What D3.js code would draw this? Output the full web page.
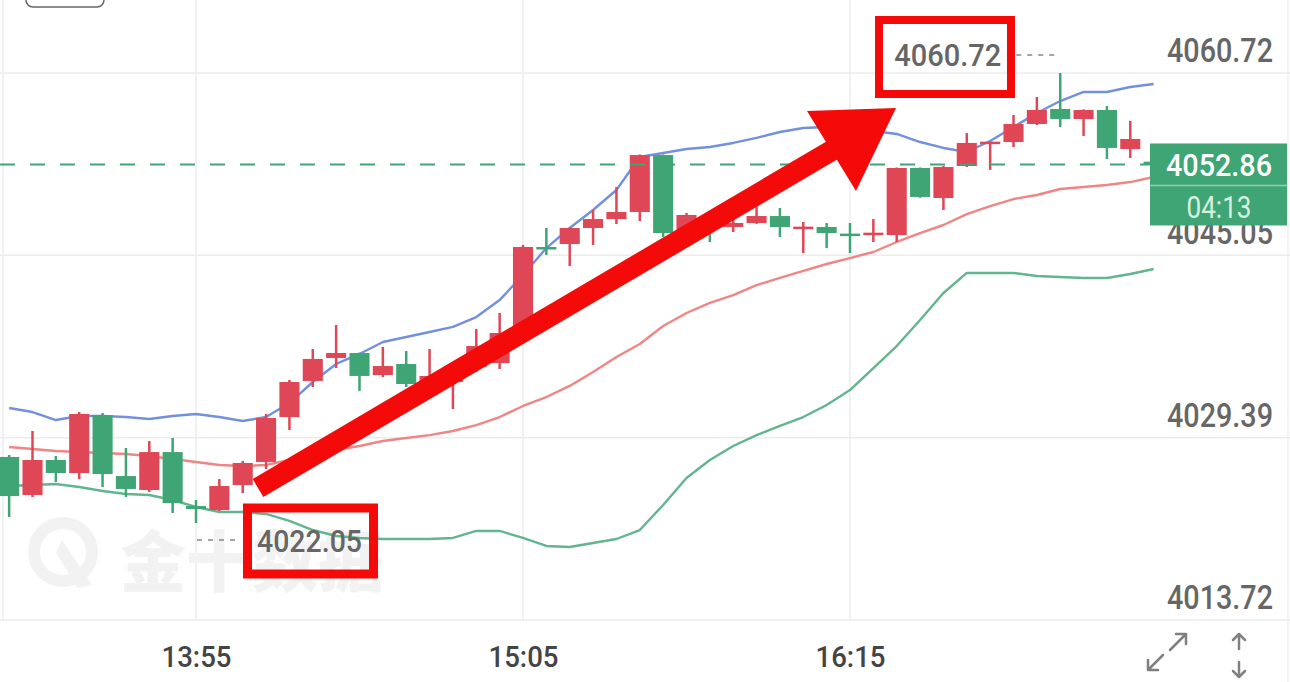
<!DOCTYPE html>
<html>
<head>
<meta charset="utf-8">
<script src="https://cdn.jsdelivr.net/npm/d3@7"></script>
<style>
  html, body { margin: 0; padding: 0; background: #fff; }
  svg { display: block; font-family: Roboto, "Noto Sans", sans-serif; }
</style>
</head>
<body>
<div id="chart"></div>
<script>
// 5 minute candles, 13:15 .. 17:20
const times = ["13:15","13:20","13:25","13:30","13:35","13:40","13:45","13:50","13:55","14:00",
  "14:05","14:10","14:15","14:20","14:25","14:30","14:35","14:40","14:45","14:50",
  "14:55","15:00","15:05","15:10","15:15","15:20","15:25","15:30","15:35","15:40",
  "15:45","15:50","15:55","16:00","16:05","16:10","16:15","16:20","16:25","16:30",
  "16:35","16:40","16:45","16:50","16:55","17:00","17:05","17:10","17:15","17:20"];

const open = [4027.73,4024.46,4027.47,4026.35,4031.33,4026.09,4024.89,4028.15,4023.51,4023.17,
  4025.32,4027.30,4031.16,4034.26,4036.23,4036.66,4034.77,4035.72,4034.00,4034.17,
  4035.46,4035.80,4038.38,4045.77,4046.03,4047.40,4048.17,4048.78,4053.67,4046.54,
  4048.26,4047.49,4047.83,4048.43,4047.45,4047.49,4046.92,4046.94,4046.80,4052.56,
  4049.98,4052.73,4054.75,4054.79,4056.34,4057.63,4056.77,4057.54,4054.19,4053.10];
const high = [4027.90,4029.96,4027.81,4031.59,4031.51,4028.50,4029.10,4029.36,4024.03,4025.83,
  4027.38,4031.42,4034.34,4037.00,4039.07,4036.70,4037.18,4036.83,4037.00,4035.35,
  4038.72,4040.10,4045.94,4047.40,4047.45,4048.95,4050.92,4053.72,4053.72,4048.69,
  4048.52,4048.69,4049.55,4049.12,4047.92,4047.83,4047.83,4048.17,4052.60,4052.60,
  4052.73,4055.56,4054.85,4057.11,4058.66,4060.72,4057.60,4057.88,4056.60,4053.40];
const low = [4022.57,4024.29,4025.58,4025.83,4025.15,4024.29,4024.72,4022.91,4022.05,4023.08,
  4024.63,4026.69,4030.04,4033.74,4035.37,4033.40,4034.60,4033.74,4033.31,4031.85,
  4035.03,4035.29,4038.30,4045.08,4044.14,4045.94,4047.75,4048.00,4046.63,4045.94,
  4046.20,4047.06,4047.75,4046.63,4045.25,4045.68,4045.25,4046.20,4046.20,4050.00,
  4048.95,4052.64,4052.39,4054.36,4056.25,4056.08,4055.31,4053.33,4053.42,4052.50];
const close = [4024.37,4027.47,4026.35,4031.42,4026.26,4024.98,4028.15,4023.77,4023.26,4025.23,
  4027.21,4031.08,4034.17,4036.15,4036.66,4034.69,4035.54,4034.00,4034.69,4035.29,
  4037.26,4038.38,4045.77,4045.60,4047.40,4048.17,4048.78,4053.67,4046.97,4048.52,
  4047.40,4047.83,4048.43,4047.49,4047.52,4046.97,4046.86,4047.00,4052.56,4050.07,
  4052.64,4054.71,4054.82,4056.34,4057.54,4056.77,4057.54,4054.28,4055.05,4052.86];

// bollinger bands
const upper = [4031.94,4031.59,4030.90,4031.25,4031.25,4031.16,4030.99,4031.25,4031.42,4031.16,
  4030.82,4031.16,4032.36,4034.17,4035.72,4036.58,4037.61,4038.04,4038.47,4038.90,
  4039.75,4041.21,4043.36,4045.68,4047.40,4048.95,4050.67,4053.50,4053.85,4054.19,
  4054.36,4054.71,4055.14,4055.65,4055.99,4056.08,4055.99,4055.74,4055.48,4054.79,
  4054.28,4053.93,4054.88,4056.08,4057.28,4058.31,4059.09,4059.09,4059.52,4059.78];
const middle = [4028.58,4028.41,4028.24,4028.15,4028.07,4027.98,4027.81,4027.55,4027.30,4027.04,
  4026.95,4027.04,4027.47,4027.98,4028.33,4028.67,4029.10,4029.36,4029.61,4029.96,
  4030.47,4031.16,4032.11,4032.88,4033.83,4035.03,4036.32,4037.43,4038.98,4040.10,
  4040.96,4041.64,4042.50,4043.11,4043.71,4044.31,4044.82,4045.34,4046.20,4046.97,
  4047.66,4048.60,4049.29,4049.89,4050.24,4050.75,4050.92,4051.10,4051.35,4051.78];
const lower = [4025.23,4025.32,4025.41,4025.15,4024.80,4024.55,4024.46,4024.03,4023.43,4023.00,
  4023.00,4022.83,4022.23,4021.45,4020.94,4020.77,4020.68,4020.68,4020.68,4020.77,
  4021.37,4021.37,4020.77,4020.08,4019.99,4020.34,4020.68,4021.45,4023.60,4025.92,
  4027.47,4028.67,4029.61,4030.39,4031.16,4032.19,4033.48,4035.37,4037.26,4039.50,
  4041.82,4043.54,4043.54,4043.54,4043.28,4043.19,4043.11,4043.11,4043.45,4043.88];

const priceTicks = [4060.72, 4045.05, 4029.39, 4013.72];
const timeTicks = ["13:55", "15:05", "16:15"];
const lastPrice = 4052.86;
const countdown = "04:13";
const watermark = "金十数据";

const width = 1290, height = 682;
const RED = "#df4656", GREEN = "#40a574";

const parse = d3.timeParse("%H:%M");
const T = times.map(parse);

const svg = d3.select("#chart").append("svg")
  .attr("width", width).attr("height", height);

const x = d3.scaleTime()
  .domain([parse("13:55"), parse("16:15")])
  .range([196, 850]);
const y = d3.scaleLinear()
  .domain([4013.72, 4060.72])
  .range([620, 73]);

const step = x(T[1]) - x(T[0]);
const bw = step * 0.86;

// grid
svg.append("line").attr("x1", 3).attr("x2", 3).attr("y1", 0).attr("y2", 620)
  .attr("stroke", "#ededed").attr("stroke-width", 1.5);
svg.append("line").attr("x1", 1288).attr("x2", 1288).attr("y1", 0).attr("y2", height)
  .attr("stroke", "#f0f0f0").attr("stroke-width", 1.5);
svg.append("g").selectAll("line").data(timeTicks).join("line")
  .attr("x1", d => x(parse(d))).attr("x2", d => x(parse(d)))
  .attr("y1", 0).attr("y2", 620)
  .attr("stroke", "#ececec").attr("stroke-width", 1.5);
svg.append("g").selectAll("line").data(priceTicks).join("line")
  .attr("x1", 0).attr("x2", width)
  .attr("y1", d => y(d)).attr("y2", d => y(d))
  .attr("stroke", "#ececec").attr("stroke-width", 1.5);

// top-left button edge
svg.append("rect").attr("x", 26).attr("y", -20).attr("width", 78).attr("height", 27)
  .attr("rx", 7).attr("fill", "none").attr("stroke", "#666").attr("stroke-width", 1.5);

// watermark
const wm = svg.append("g").attr("fill", "#f2f2f2");
wm.append("circle").attr("cx", 63).attr("cy", 552).attr("r", 29)
  .attr("fill", "none").attr("stroke", "#f2f2f2").attr("stroke-width", 12);
wm.append("path").attr("d", "M62,540 L92,585 L78,588 L56,553 Z");
wm.append("text").attr("x", 120).attr("y", 557)
  .attr("dominant-baseline", "central")
  .attr("font-family", "'Noto Sans CJK SC', sans-serif")
  .attr("font-weight", 900).attr("font-size", 66)
  .text(watermark);

// bands
const band = arr => d3.line().x((d, i) => x(T[i])).y(d => y(d))(arr);
[[upper, "#7390df"], [middle, "#f08585"], [lower, "#62b58e"]].forEach(([arr, c]) => {
  svg.append("path").attr("d", band(arr)).attr("fill", "none")
    .attr("stroke", c).attr("stroke-width", 2.4).attr("stroke-linejoin", "round");
});

// candles
const candles = svg.append("g").selectAll("g").data(times).join("g")
  .attr("fill", (d, i) => close[i] >= open[i] ? RED : GREEN)
  .attr("stroke", (d, i) => close[i] >= open[i] ? RED : GREEN);
candles.append("line")
  .attr("x1", (d, i) => x(T[i])).attr("x2", (d, i) => x(T[i]))
  .attr("y1", (d, i) => y(high[i])).attr("y2", (d, i) => y(low[i]))
  .attr("stroke-width", 2.5);
candles.append("rect")
  .attr("x", (d, i) => x(T[i]) - bw / 2)
  .attr("y", (d, i) => y(Math.max(open[i], close[i])))
  .attr("width", bw)
  .attr("height", (d, i) => Math.max(2.5, Math.abs(y(open[i]) - y(close[i]))))
  .attr("stroke", "none");

// last price dashed line
svg.append("line").attr("x1", 0).attr("x2", 1150)
  .attr("y1", y(lastPrice)).attr("y2", y(lastPrice))
  .attr("stroke", GREEN).attr("stroke-width", 2.2).attr("stroke-dasharray", "15,15");

// max / min markers
const maxI = d3.maxIndex(high), minI = d3.minIndex(low);
const hx = x(T[maxI]), hy = y(high[maxI]);
const lx = x(T[minI]), ly = y(low[minI]);
const markFont = { size: 32, fill: "#666" };

svg.append("line").attr("x1", hx - 44).attr("x2", hx - 4).attr("y1", hy - 18).attr("y2", hy - 18)
  .attr("stroke", "#888").attr("stroke-width", 1.5).attr("stroke-dasharray", "5,6");
svg.append("text").attr("x", hx - 59).attr("y", hy - 7)
  .attr("text-anchor", "end").attr("font-size", markFont.size).attr("font-weight", 500)
  .attr("fill", markFont.fill)
  .attr("textLength", 107).attr("lengthAdjust", "spacingAndGlyphs")
  .text(d3.format(".2f")(high[maxI]));

svg.append("line").attr("x1", lx + 1).attr("x2", lx + 44).attr("y1", ly + 17).attr("y2", ly + 17)
  .attr("stroke", "#888").attr("stroke-width", 1.5).attr("stroke-dasharray", "5,6");
svg.append("text").attr("x", lx + 61).attr("y", ly + 29)
  .attr("font-size", markFont.size).attr("font-weight", 500).attr("fill", markFont.fill)
  .attr("textLength", 105).attr("lengthAdjust", "spacingAndGlyphs")
  .text(d3.format(".2f")(low[minI]));

// right price labels
svg.append("g").selectAll("text").data(priceTicks).join("text")
  .attr("x", 1273).attr("y", d => y(d) - 11)
  .attr("text-anchor", "end").attr("font-size", 33).attr("font-weight", 500).attr("fill", "#666")
  .attr("textLength", 106).attr("lengthAdjust", "spacingAndGlyphs")
  .text(d => d3.format(".2f")(d));

// time axis
const xAxis = d3.axisBottom(x)
  .tickValues(timeTicks.map(parse))
  .tickFormat(d3.timeFormat("%H:%M"))
  .tickSize(0);
const gx = svg.append("g").attr("transform", "translate(0,620)").call(xAxis);
gx.select(".domain").remove();
gx.selectAll("text")
  .attr("dy", 0).attr("y", 47)
  .attr("font-size", 30).attr("font-weight", 500)
  .attr("font-family", "Roboto, sans-serif").attr("fill", "#444")
  .attr("textLength", 70).attr("lengthAdjust", "spacingAndGlyphs");

// annotation arrow
const arrow = svg.append("g").attr("fill", "#f50a0a");
arrow.append("line").attr("x1", 258).attr("y1", 488).attr("x2", 836).attr("y2", 148)
  .attr("stroke", "#f50a0a").attr("stroke-width", 21);
arrow.append("path").attr("d", "M896,108 L807,111 L856,191 Z");

// highlight boxes
svg.append("rect").attr("x", 879).attr("y", 20).attr("width", 132).attr("height", 74)
  .attr("fill", "none").attr("stroke", "#f50a0a").attr("stroke-width", 8);
svg.append("rect").attr("x", 247.5).attr("y", 508).attr("width", 126).attr("height", 66)
  .attr("fill", "none").attr("stroke", "#f50a0a").attr("stroke-width", 9);

// last price box
const py = y(lastPrice);
svg.append("rect").attr("x", 1150).attr("y", py - 21).attr("width", 137).attr("height", 82)
  .attr("fill", GREEN);
svg.append("line").attr("x1", 1150).attr("x2", 1287).attr("y1", py + 21).attr("y2", py + 21)
  .attr("stroke", "#8ed0ae").attr("stroke-width", 1.5);
svg.append("text").attr("x", 1219).attr("y", py + 12)
  .attr("text-anchor", "middle").attr("font-size", 32).attr("font-weight", 500).attr("fill", "#fff")
  .attr("textLength", 106).attr("lengthAdjust", "spacingAndGlyphs")
  .text(d3.format(".2f")(lastPrice));
svg.append("text").attr("x", 1219).attr("y", py + 54)
  .attr("text-anchor", "middle").attr("font-size", 31).attr("fill", "#d6f1e2")
  .attr("textLength", 65).attr("lengthAdjust", "spacingAndGlyphs")
  .text(countdown);

// bottom-right icons
const ic = svg.append("g").attr("fill", "none").attr("stroke", "#808080")
  .attr("stroke-width", 2.5).attr("stroke-linecap", "round").attr("stroke-linejoin", "round");
ic.append("path").attr("d", "M1170,650 L1186,634 M1176,634 L1186,634 L1186,644");
ic.append("path").attr("d", "M1163,655 L1148,670 M1148,660 L1148,670 L1158,670");
ic.append("path").attr("d", "M1239,649 L1239,634 M1233,640 L1239,634 L1245,640");
ic.append("path").attr("d", "M1239,662 L1239,677 M1233,671 L1239,677 L1245,671");
</script>
</body>
</html>
